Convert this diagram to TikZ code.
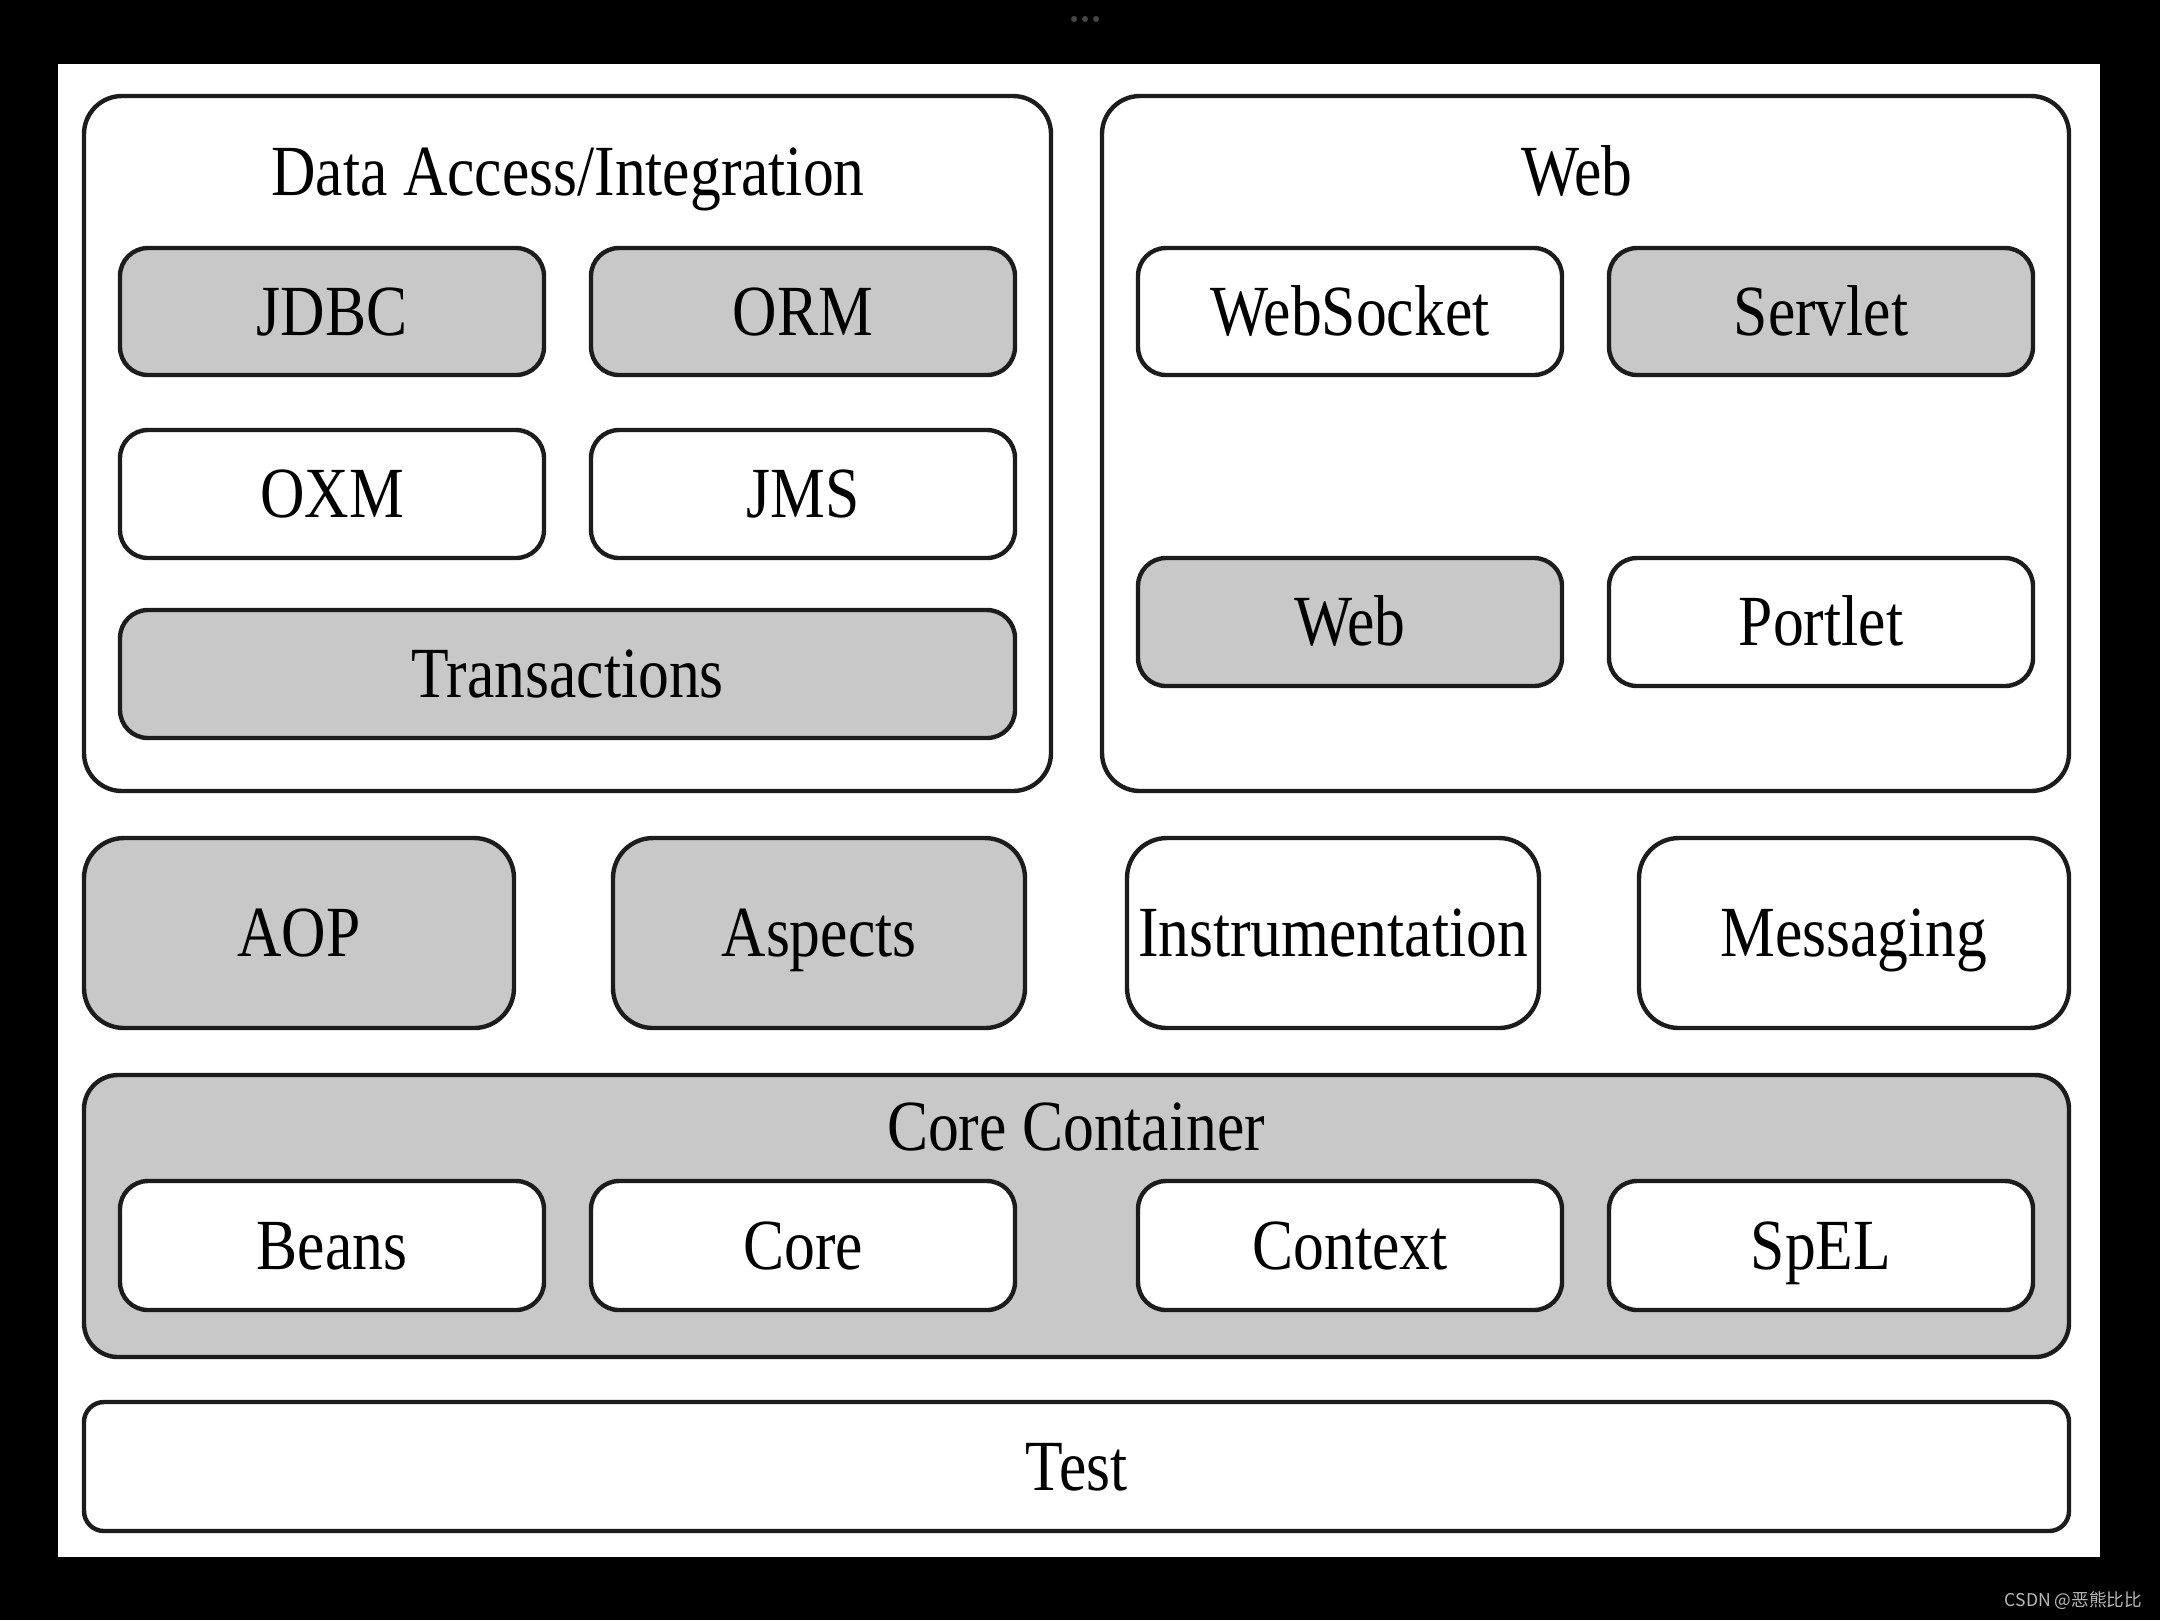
\documentclass[tikz,border=0pt]{standalone}
\usepackage{fontspec}
\setmainfont{Liberation Serif}[FakeStretch=0.855]
\newfontfamily\cjkfont{Noto Sans CJK SC}
\definecolor{boxgray}{RGB}{200,200,200}
\definecolor{edge}{RGB}{28,28,28}
\definecolor{wmark}{RGB}{185,185,185}
\definecolor{dotgray}{RGB}{70,70,70}
% #1 style, #2 name, #3 x1, #4 y1, #5 x2, #6 y2, #7 text
\newcommand\mybox[7]{\node[#1, minimum width={(#5-#3)*0.25pt}, minimum height={(#6-#4)*0.25pt}] (#2) at ({(#3+#5)/2},{(#4+#6)/2}) {#7};}
\begin{document}
\begin{tikzpicture}[x=0.25pt,y=-0.25pt,
  every node/.style={inner sep=0pt, outer sep=0pt},
  lbl/.style={font=\fontsize{18}{20}\selectfont, text height=11.9pt, text depth=0pt, text=black},
  outerbox/.style={draw=edge, line width=1.1pt, rounded corners=9.5pt, fill=white},
  inbox/.style={lbl, draw=edge, line width=1.1pt, rounded corners=7pt, fill=white},
  inboxg/.style={inbox, fill=boxgray},
  midbox/.style={lbl, draw=edge, line width=1.1pt, rounded corners=10pt, fill=white},
  midboxg/.style={midbox, fill=boxgray},
  corebox/.style={draw=edge, line width=1.1pt, rounded corners=8.5pt, fill=boxgray},
  testbox/.style={lbl, draw=edge, line width=1.1pt, rounded corners=5pt, fill=white},
  title/.style={lbl}]
\useasboundingbox (0,0) rectangle (2160,1620);
\fill[black] (0,0) rectangle (2160,1620);
\fill[white] (58,64) rectangle (2100,1557);
% top dots
\fill[dotgray] (1074,19) circle (3);
\fill[dotgray] (1085,19) circle (3);
\fill[dotgray] (1096,19) circle (3);
% Data Access / Integration
\mybox{outerbox}{da}{84}{96}{1051}{791}{}
\node[title] (datitle) at (568,172) {Data Access/Integration};
\mybox{inboxg}{jdbc}{120}{248}{544}{375}{JDBC}
\mybox{inboxg}{orm}{591}{248}{1015}{375}{ORM}
\mybox{inbox}{oxm}{120}{430}{544}{558}{OXM}
\mybox{inbox}{jms}{591}{430}{1015}{558}{JMS}
\mybox{inboxg}{tx}{120}{610}{1015}{738}{Transactions}
% Web
\mybox{outerbox}{web}{1102}{96}{2069}{791}{}
\node[title] (webtitle) at (1577,172) {Web};
\mybox{inbox}{ws}{1138}{248}{1562}{375}{WebSocket}
\mybox{inboxg}{servlet}{1609}{248}{2033}{375}{Servlet}
\mybox{inboxg}{webm}{1138}{558}{1562}{686}{Web}
\mybox{inbox}{portlet}{1609}{558}{2033}{686}{Portlet}
% middle row
\mybox{midboxg}{aop}{84}{838}{514}{1028}{AOP}
\mybox{midboxg}{aspects}{613}{838}{1025}{1028}{Aspects}
\mybox{midbox}{instr}{1127}{838}{1539}{1028}{Instrumentation}
\mybox{midbox}{msg}{1639}{838}{2069}{1028}{Messaging}
% Core container
\mybox{corebox}{cc}{84}{1075}{2069}{1357}{}
\node[title] (cctitle) at (1076,1127) {Core Container};
\mybox{inbox}{beans}{120}{1181}{544}{1310}{Beans}
\mybox{inbox}{core}{591}{1181}{1015}{1310}{Core}
\mybox{inbox}{context}{1138}{1181}{1562}{1310}{Context}
\mybox{inbox}{spel}{1609}{1181}{2033}{1310}{SpEL}
% Test
\mybox{testbox}{test}{84}{1402}{2069}{1531}{Test}
% watermark
\node[anchor=east, text=wmark, font=\cjkfont\fontsize{4.4}{5}\selectfont] (wm) at (2142,1601) {CSDN @恶熊比比};
\end{tikzpicture}
\end{document}
